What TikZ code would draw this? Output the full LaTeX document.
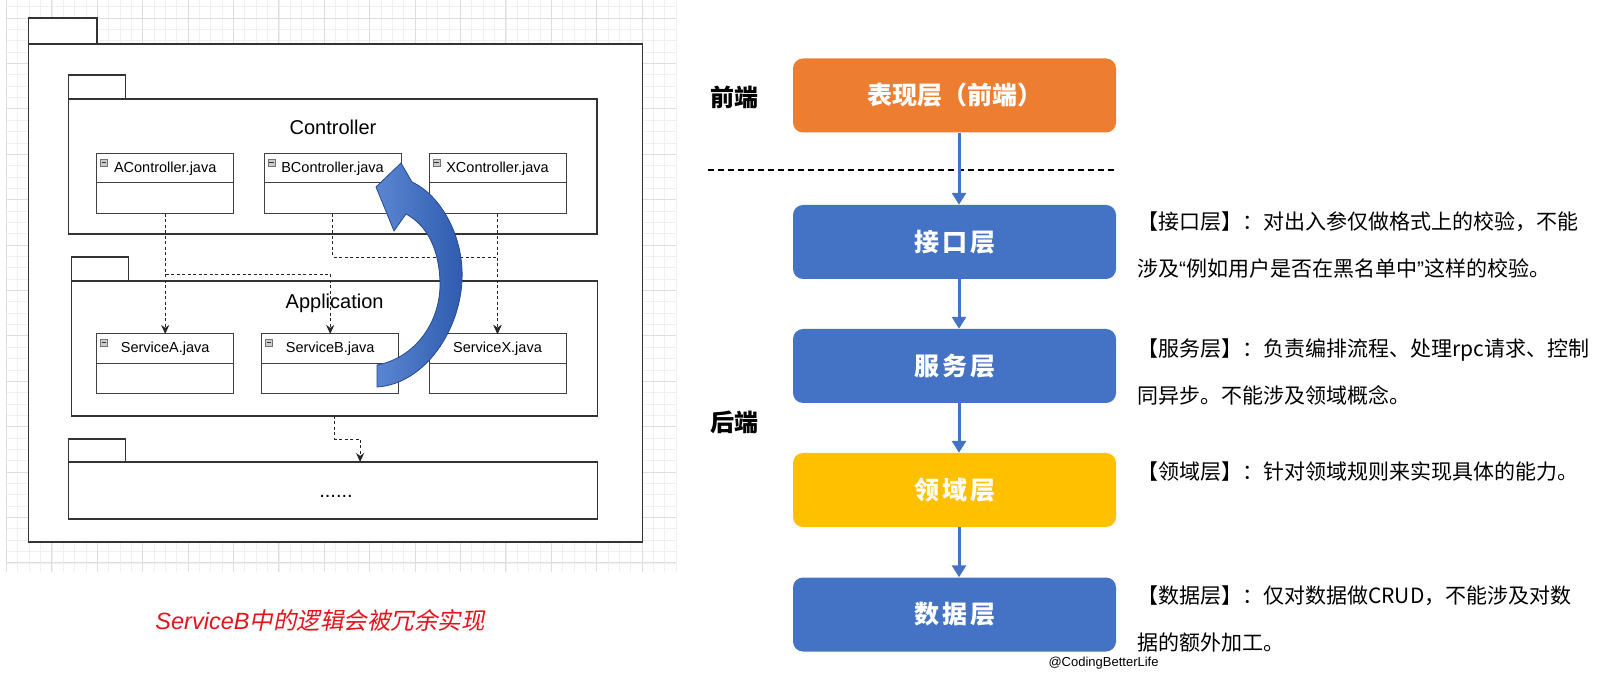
\documentclass[tikz,border=0pt]{standalone}
\usepackage{fontspec}
\setmainfont{Liberation Sans}
\newfontfamily\cjk{Noto Sans CJK SC}
\newfontfamily\cjkslant{Noto Sans CJK SC}[FakeSlant=0.2]
\usetikzlibrary{arrows.meta}
\definecolor{layerblue}{HTML}{4472C4}
\definecolor{layerorange}{HTML}{ED7D31}
\definecolor{layeryellow}{HTML}{FFC000}
\definecolor{bendlight}{HTML}{5A86D2}
\definecolor{benddark}{HTML}{2F5AAE}
\definecolor{bendedge}{HTML}{27498E}
\definecolor{captionred}{HTML}{E3141C}

\begin{document}
\begin{tikzpicture}[x=1pt,y=-1pt,
    pkg/.style={draw=black!80, line width=1.3pt, fill=white, inner sep=0, outer sep=0},
    cls/.style={draw=black!75, line width=1pt, fill=white, minimum width=137pt, inner sep=0, outer sep=0, anchor=north},
    clshead/.style={cls, minimum height=29pt, font=\fontsize{14.5}{16}\selectfont,
      path picture={\draw[black!55, fill=black!20, line width=0.5pt] ([shift={(4pt,-5pt)}]path picture bounding box.north west) rectangle ++(7pt,-7pt);
        \draw[black!80, line width=1pt] ([shift={(5.3pt,-8.5pt)}]path picture bounding box.north west) -- ++(4.4pt,0);}},
    dep/.style={black!85, line width=0.9pt, dash pattern=on 3pt off 2.5pt, -{Stealth[length=9pt,width=8pt]}},
    layer/.style={rounded corners=10pt, minimum width=323pt, minimum height=74pt, inner sep=0, text=white, font=\cjk\bfseries\fontsize{25}{28}\selectfont},
    flow/.style={layerblue, line width=3pt, -{Triangle[width=14pt,length=12pt]}},
    note/.style={anchor=north west, align=left, inner sep=0, font=\cjk\fontsize{21}{47}\selectfont},
    side/.style={font=\cjk\bfseries\fontsize{24}{28}\selectfont},
    gridminor/.style={draw=black!6, line width=0.6pt},
    gridmajor/.style={draw=black!13, line width=0.8pt}
  ]
  \useasboundingbox[fill=white] (0,0) rectangle (1623,684);

  \foreach \i in {0,...,59} \draw[gridminor] ({6.4+11.35*\i},0) -- ({6.4+11.35*\i},572);
  \foreach \j in {-1,...,48} \draw[gridminor] (6.4,{18+11.35*\j}) -- (676,{18+11.35*\j});
  \foreach \i in {0,...,14} \draw[gridmajor] ({6.4+45.4*\i},0) -- ({6.4+45.4*\i},572);
  \foreach \j in {0,...,12} \draw[gridmajor] (6.4,{18+45.4*\j}) -- (676,{18+45.4*\j});

  \node[pkg, anchor=north west, minimum width=614pt, minimum height=498pt, line width=1.5pt] (outer) at (28.6,44) {};
  \node[pkg, anchor=south west, minimum width=68.6pt, minimum height=26pt, line width=1.5pt] (outertab) at (outer.north west) {};

  \node[pkg, anchor=north west, minimum width=528.4pt, minimum height=135pt] (ctrl) at (68.6,99) {};
  \node[pkg, anchor=south west, minimum width=56.8pt, minimum height=24pt] (ctrltab) at (ctrl.north west) {};
  \node[font=\fontsize{20}{24}\selectfont] (ctrltitle) at (333,127.5) {Controller};
  \node[clshead] (actrl) at (165.2,154) {AController.java};
  \node[cls, minimum height=31pt] (actrlb) at (actrl.south) {};
  \node[clshead] (bctrl) at (332.5,154) {BController.java};
  \node[cls, minimum height=31pt] (bctrlb) at (bctrl.south) {};
  \node[clshead] (xctrl) at (497.5,154) {XController.java};
  \node[cls, minimum height=31pt] (xctrlb) at (xctrl.south) {};

  \node[pkg, anchor=north west, minimum width=526pt, minimum height=135pt] (app) at (71.5,281) {};
  \node[pkg, anchor=south west, minimum width=57pt, minimum height=24pt] (apptab) at (app.north west) {};
  \node[font=\fontsize{20}{24}\selectfont] (apptitle) at (334.6,303) {Application};
  \node[clshead, minimum height=30pt] (serva) at (165.2,334) {ServiceA.java};
  \node[cls, minimum height=30pt] (servab) at (serva.south) {};
  \node[clshead, minimum height=30pt] (servb) at (330.2,334) {ServiceB.java};
  \node[cls, minimum height=30pt] (servbb) at (servb.south) {};
  \node[clshead, minimum height=30pt] (servx) at (497.5,334) {ServiceX.java};
  \node[cls, minimum height=30pt] (servxb) at (servx.south) {};

  \node[pkg, anchor=north west, minimum width=529pt, minimum height=57pt] (more) at (68.6,462) {};
  \node[pkg, anchor=south west, minimum width=56.8pt, minimum height=23pt] (moretab) at (more.north west) {};
  \node[font=\fontsize{20}{24}\selectfont] (moredots) at (336,496) {......};

  \draw[dep] (actrlb.south) -- (serva.north);
  \draw[dep] (actrlb.south) -- ++(0,60) -| (servb.north);
  \draw[dep] (bctrlb.south) -- ++(0,43) -| (servx.north);
  \draw[dep] (xctrlb.south) -- (servx.north);
  \draw[dep] (app.south) -- ++(0,23) -| ([xshift=27pt]more.north);

  \draw[draw=bendedge, line width=0.8pt, left color=bendlight, right color=benddark]
    (376,187) -- (401,163) -- (412,182) .. controls (442,196) and (464,238) .. (462,280)
    .. controls (460,330) and (425,384) .. (377,387) -- (377,365)
    .. controls (415,358) and (441,322) .. (440,282) .. controls (439,250) and (428,226) .. (406,214)
    -- (394,231) -- cycle;

  \node[text=captionred, font=\fontsize{23.5}{28}\selectfont] (caption) at (320,620) {{\itshape ServiceB}{\cjkslant 中的逻辑会被冗余实现}};

  \node[side] (front) at (734,97) {前端};
  \node[side] (back) at (734,422) {后端};
  \draw[black, line width=1.3pt, dash pattern=on 6pt off 4pt] (708,170) -- (1115,170);

  \node[layer, fill=layerorange] (pres) at (954.5,95.5) {表现层（前端）};
  \node[layer, fill=layerblue] (api) at (954.5,242) {接\kern3pt 口\kern3pt 层};
  \node[layer, fill=layerblue] (svc) at (954.5,366) {服\kern3pt 务\kern3pt 层};
  \node[layer, fill=layeryellow] (dom) at (954.5,490) {领\kern3pt 域\kern3pt 层};
  \node[layer, fill=layerblue] (data) at (954.5,614.5) {数\kern3pt 据\kern3pt 层};

  \draw[flow] ([xshift=4.5pt]pres.south) -- ([xshift=4.5pt]api.north);
  \draw[flow] ([xshift=4.5pt]api.south) -- ([xshift=4.5pt]svc.north);
  \draw[flow] ([xshift=4.5pt]svc.south) -- ([xshift=4.5pt]dom.north);
  \draw[flow] ([xshift=4.5pt]dom.south) -- ([xshift=4.5pt]data.north);

  \node[note] (apinote) at (1137,212) {【接口层】：对出入参仅做格式上的校验，不能\\涉及{\rmfamily “}例如用户是否在黑名单中{\rmfamily ”}这样的校验。};
  \node[note] (svcnote) at (1137,339) {【服务层】：负责编排流程、处理rpc请求、控制\\同异步。不能涉及领域概念。};
  \node[note] (domnote) at (1137,462) {【领域层】：针对领域规则来实现具体的能力。};
  \node[note] (datanote) at (1137,586) {【数据层】：仅对数据做CRUD，不能涉及对数\\据的额外加工。};

  \node[anchor=west, font=\fontsize{13}{15}\selectfont] (credit) at (1045,663) {@CodingBetterLife};
\end{tikzpicture}
\end{document}
